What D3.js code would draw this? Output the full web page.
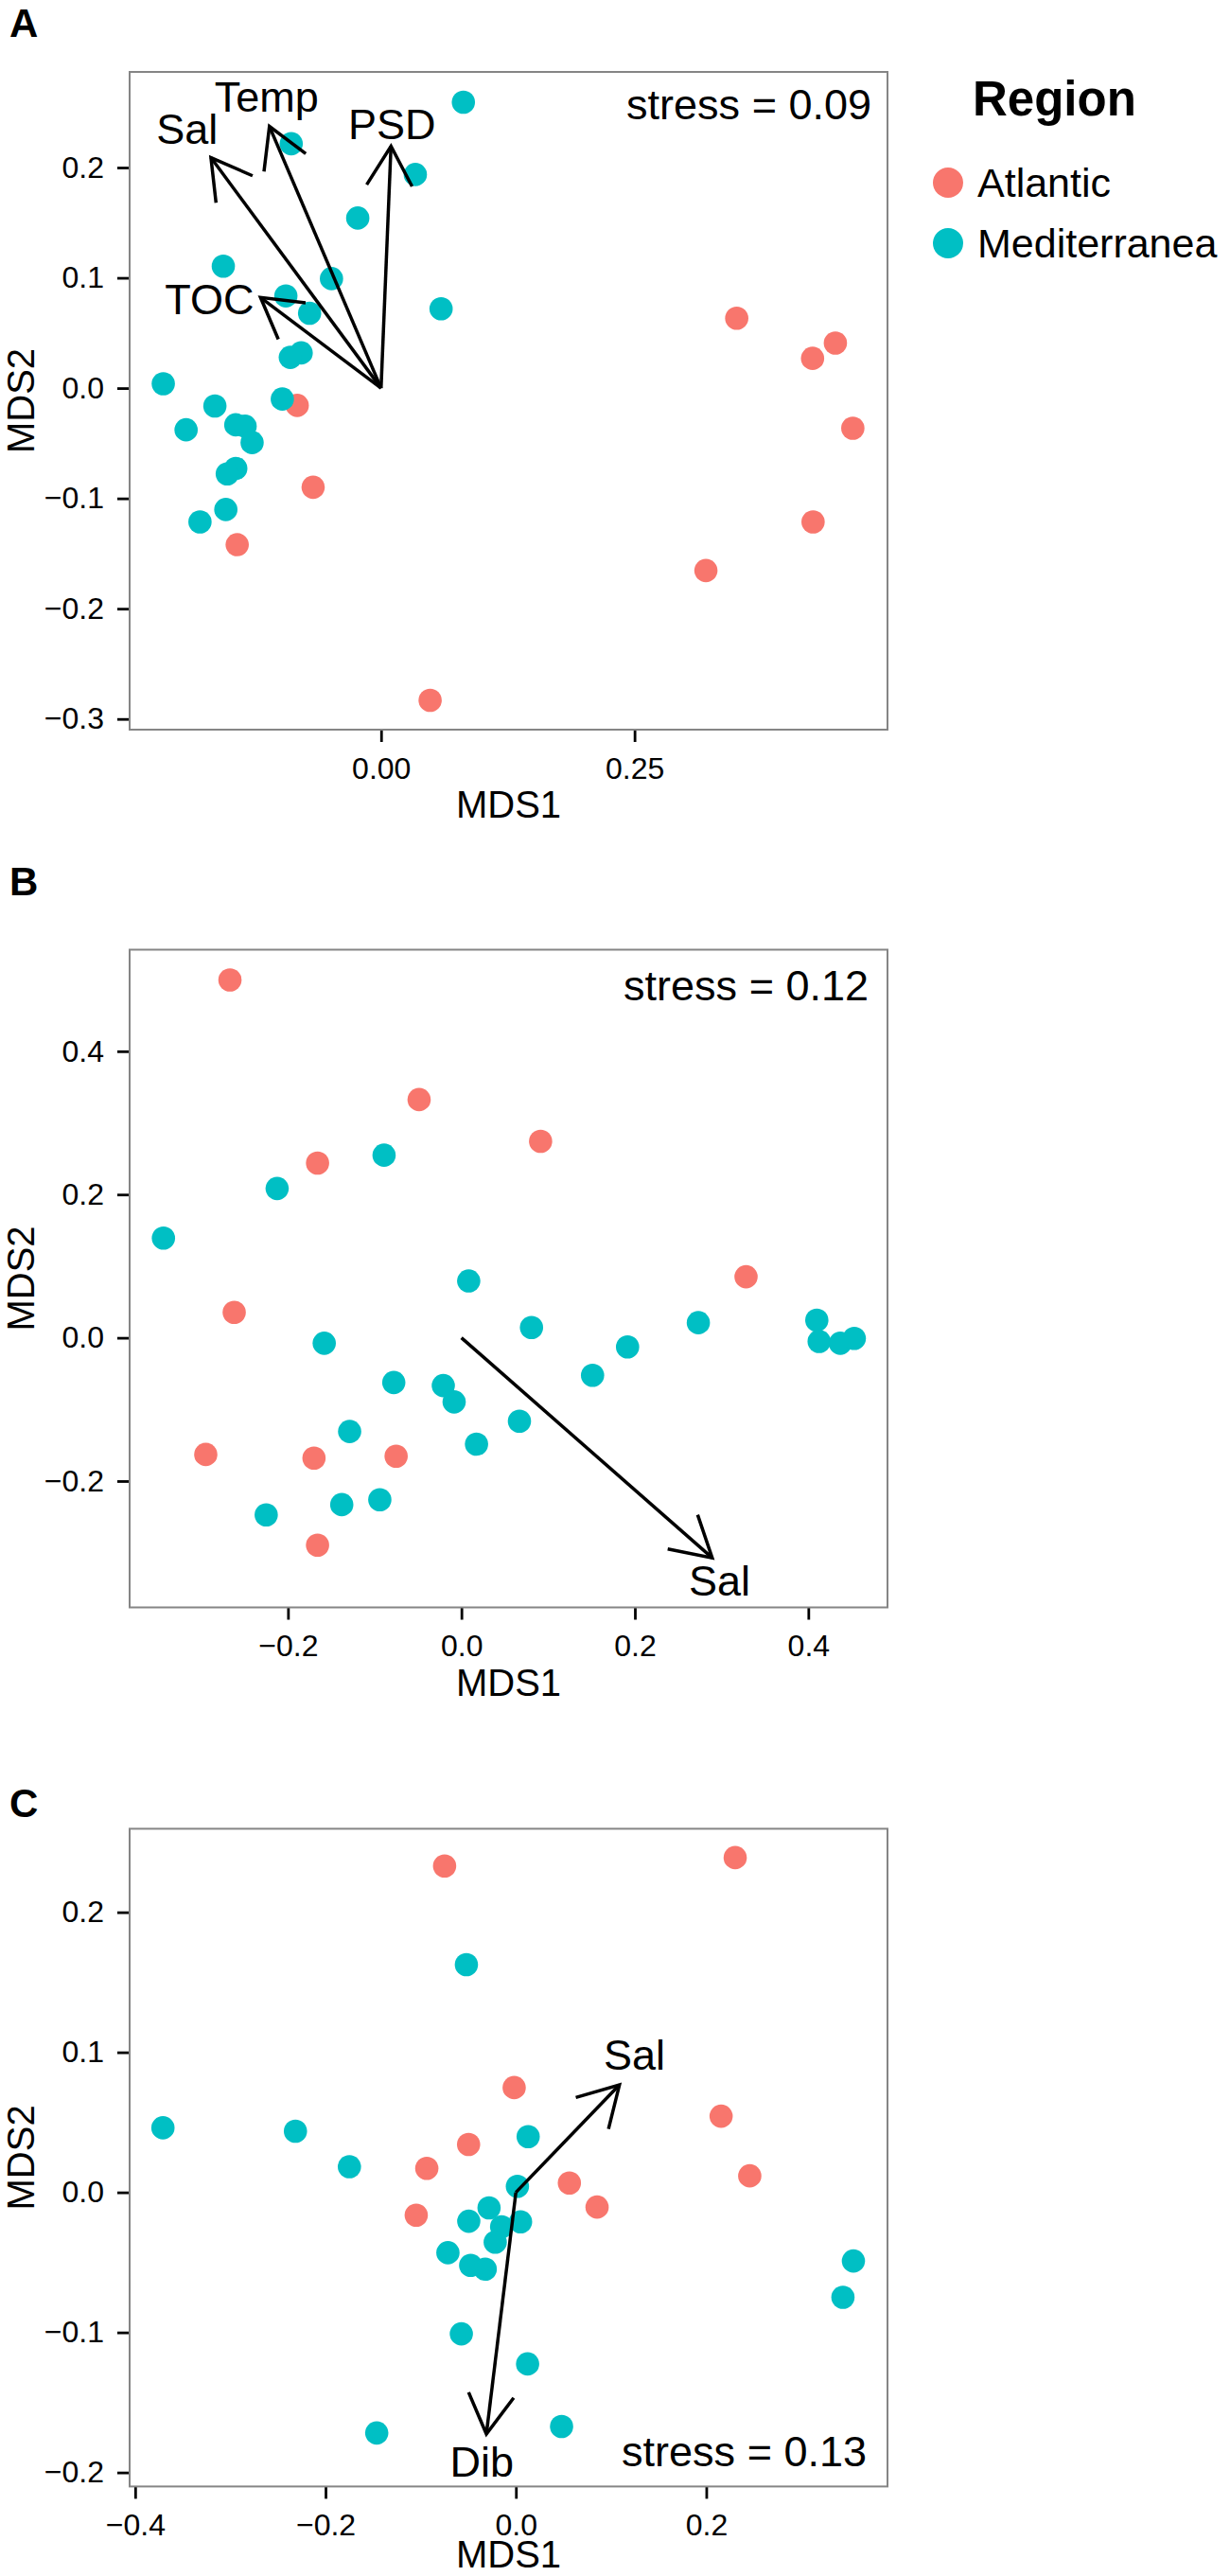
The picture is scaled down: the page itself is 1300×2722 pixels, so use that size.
<!DOCTYPE html>
<html>
<head>
<meta charset="utf-8">
<script src="https://cdn.jsdelivr.net/npm/d3@7"></script>
<style>
  body { margin: 0; background: #fff; }
</style>
</head>
<body>
<div id="chart"></div>
<script>
const WIDTH = 1300, HEIGHT = 2722;
const PLOT = { LEFT: 137, RIGHT: 938, HEIGHT: 695 };
const FONT = '"Liberation Sans", Arial, Helvetica, sans-serif';
const COLORS = { Atlantic: "#F8766D", Mediterranea: "#00BFC4" };
const regions = ["Atlantic", "Mediterranea"];

// ---- panel A ----
const atlanticA = [
  [0.3508, 0.0634], [0.4481, 0.0409], [0.4256, 0.0270], [0.4653, -0.0364],
  [-0.0827, -0.0157], [-0.0670, -0.0899], [-0.1419, -0.1420], [0.4261, -0.1213],
  [0.3204, -0.1654], [0.0484, -0.2831]
];
const mediterraneaA = [
  [0.0812, 0.2593], [-0.0886, 0.2216], [0.0338, 0.1937], [-0.0230, 0.1542],
  [-0.1556, 0.1106], [-0.0489, 0.0993], [-0.0939, 0.0836], [-0.0705, 0.0679],
  [0.0592, 0.0719], [-0.0788, 0.0319], [-0.0895, 0.0279], [-0.2148, 0.0040],
  [-0.0974, -0.0099], [-0.1639, -0.0162], [-0.1923, -0.0378], [-0.1433, -0.0333],
  [-0.1341, -0.0346], [-0.1272, -0.0494], [-0.1433, -0.0728], [-0.1517, -0.0778],
  [-0.1531, -0.1101], [-0.1786, -0.1213]
];
const vectorNamesA = ["Sal", "Temp", "PSD", "TOC"];
const vectorTipsA = [[-0.1678, 0.2090], [-0.1101, 0.2373], [0.0098, 0.2193], [-0.1189, 0.0822]];
const vectorLabelsA = [[-0.1913, 0.2351], [-0.1130, 0.2643], [0.0108, 0.2396], [-0.1693, 0.0809]];
const xDomainA = [-0.248, 0.4995], yDomainA = [-0.3097, 0.2867];
const xTicksA = [0, 0.25], xTickLabelsA = ["0.00", "0.25"];
const yTicksA = [-0.3, -0.2, -0.1, 0, 0.1, 0.2];
const yTickLabelsA = ["\u22120.3", "\u22120.2", "\u22120.1", "0.0", "0.1", "0.2"];

// ---- panel B ----
const atlanticB = [
  [-0.2669, 0.4996], [-0.0488, 0.3325], [0.0913, 0.2743], [-0.1659, 0.2439],
  [0.3282, 0.0852], [-0.2620, 0.0354], [-0.2948, -0.1629], [-0.1700, -0.1679],
  [-0.0753, -0.1654], [-0.1659, -0.2895]
];
const mediterraneaB = [
  [-0.0892, 0.2549], [-0.2125, 0.2084], [-0.3436, 0.1392], [0.0084, 0.0793],
  [0.0808, 0.0143], [0.2732, 0.0211], [-0.1582, -0.0076], [0.1916, -0.0127],
  [0.4098, 0.0245], [0.4125, -0.0051], [0.4369, -0.0076], [0.4530, -0.0008],
  [0.1512, -0.0523], [-0.0780, -0.0624], [-0.0209, -0.0667], [-0.0084, -0.0895],
  [0.0669, -0.1165], [0.0174, -0.1485], [-0.1289, -0.1308], [-0.1380, -0.2329],
  [-0.0941, -0.2262], [-0.2251, -0.2473]
];
const vectorNamesB = ["Sal"];
const vectorTipsB = [[0.2892, -0.3072]];
const vectorLabelsB = [[0.2976, -0.3384]];
const xDomainB = [-0.3826, 0.4913], yDomainB = [-0.3764, 0.5418];
const xTicksB = [-0.2, 0, 0.2, 0.4], xTickLabelsB = ["\u22120.2", "0.0", "0.2", "0.4"];
const yTicksB = [-0.2, 0, 0.2, 0.4], yTickLabelsB = ["\u22120.2", "0.0", "0.2", "0.4"];

// ---- panel C ----
const atlanticC = [
  [-0.0749, 0.2330], [0.2304, 0.2390], [-0.0018, 0.0748], [0.2156, 0.0544],
  [-0.0497, 0.0342], [-0.0936, 0.0171], [0.0562, 0.0067], [0.2457, 0.0118],
  [0.0853, -0.0105], [-0.1047, -0.0163]
];
const mediterraneaC = [
  [-0.0520, 0.1626], [-0.3708, 0.0461], [-0.2316, 0.0437], [-0.1749, 0.0183],
  [0.0129, 0.0398], [0.0016, 0.0043], [-0.0282, -0.0111], [-0.0495, -0.0206],
  [0.0049, -0.0210], [-0.0150, -0.0246], [-0.0217, -0.0356], [-0.0714, -0.0431],
  [-0.0475, -0.0521], [-0.0322, -0.0548], [0.3546, -0.0490], [0.3436, -0.0749],
  [-0.0573, -0.1010], [0.0123, -0.1225], [-0.1462, -0.1718], [0.0480, -0.1672]
];
const vectorNamesC = ["Sal", "Dib"];
const vectorTipsC = [[0.1088, 0.0767], [-0.0310, -0.1726]];
const vectorLabelsC = [[0.1246, 0.0986], [-0.0357, -0.1917]];
const xDomainC = [-0.4058, 0.3904], yDomainC = [-0.2100, 0.2596];
const xTicksC = [-0.4, -0.2, 0, 0.2], xTickLabelsC = ["\u22120.4", "\u22120.2", "0.0", "0.2"];
const yTicksC = [-0.2, -0.1, 0, 0.1, 0.2];
const yTickLabelsC = ["\u22120.2", "\u22120.1", "0.0", "0.1", "0.2"];

const stressLabels = ["stress = 0.09", "stress = 0.12", "stress = 0.13"];

// panel layout (top of plot box, letter baseline, stress text placement, x title offset)
const panels = [
  { letter: "A", top: 76, letterY: 38.5, atl: atlanticA, med: mediterraneaA,
    names: vectorNamesA, tips: vectorTipsA, labels: vectorLabelsA,
    xDomain: xDomainA, yDomain: yDomainA, xTicks: xTicksA, xTickLabels: xTickLabelsA,
    yTicks: yTicksA, yTickLabels: yTickLabelsA, stress: stressLabels[0],
    stressRight: 17, stressY: 50, xTitleY: 93 },
  { letter: "B", top: 1003.5, letterY: 946, atl: atlanticB, med: mediterraneaB,
    names: vectorNamesB, tips: vectorTipsB, labels: vectorLabelsB,
    xDomain: xDomainB, yDomain: yDomainB, xTicks: xTicksB, xTickLabels: xTickLabelsB,
    yTicks: yTicksB, yTickLabels: yTickLabelsB, stress: stressLabels[1],
    stressRight: 20, stressY: 53, xTitleY: 93 },
  { letter: "C", top: 1932.4, letterY: 1920, atl: atlanticC, med: mediterraneaC,
    names: vectorNamesC, tips: vectorTipsC, labels: vectorLabelsC,
    xDomain: xDomainC, yDomain: yDomainC, xTicks: xTicksC, xTickLabels: xTickLabelsC,
    yTicks: yTicksC, yTickLabels: yTickLabelsC, stress: stressLabels[2],
    stressRight: 22, stressY: PLOT.HEIGHT - 21, xTitleY: 86 }
];

const svg = d3.select("#chart")
  .append("svg")
  .attr("width", WIDTH)
  .attr("height", HEIGHT)
  .style("font-family", FONT);

svg.append("rect").attr("width", WIDTH).attr("height", HEIGHT).attr("fill", "#fff");

panels.forEach(drawPanel);
drawLegend();

function drawPanel(p) {
  const g = svg.append("g").attr("transform", `translate(0, ${p.top})`);

  const x = d3.scaleLinear().domain(p.xDomain).range([PLOT.LEFT, PLOT.RIGHT]);
  const y = d3.scaleLinear().domain(p.yDomain).range([PLOT.HEIGHT, 0]);

  // panel letter
  svg.append("text")
    .attr("x", 10)
    .attr("y", p.letterY)
    .attr("font-size", "42px")
    .attr("font-weight", "bold")
    .text(p.letter);

  // axes
  const xAxis = g.append("g")
    .attr("transform", `translate(0, ${PLOT.HEIGHT})`)
    .call(d3.axisBottom(x)
      .tickValues(p.xTicks)
      .tickFormat((d, i) => p.xTickLabels[i])
      .tickSize(13)
      .tickPadding(16));

  const yAxis = g.append("g")
    .attr("transform", `translate(${PLOT.LEFT}, 0)`)
    .call(d3.axisLeft(y)
      .tickValues(p.yTicks)
      .tickFormat((d, i) => p.yTickLabels[i])
      .tickSize(13)
      .tickPadding(14));

  [xAxis, yAxis].forEach(a => {
    a.select(".domain").remove();
    a.selectAll(".tick line").attr("stroke", "#000").attr("stroke-width", 2.8);
    a.selectAll(".tick text")
      .attr("fill", "#000")
      .attr("font-size", "32px")
      .attr("font-family", FONT);
  });

  // panel border
  g.append("rect")
    .attr("x", PLOT.LEFT)
    .attr("y", 0)
    .attr("width", PLOT.RIGHT - PLOT.LEFT)
    .attr("height", PLOT.HEIGHT)
    .attr("fill", "none")
    .attr("stroke", "#858585")
    .attr("stroke-width", 2);

  // axis titles
  g.append("text")
    .attr("x", (PLOT.LEFT + PLOT.RIGHT) / 2)
    .attr("y", PLOT.HEIGHT + p.xTitleY)
    .attr("text-anchor", "middle")
    .attr("font-size", "40px")
    .text("MDS1");

  g.append("text")
    .attr("transform", `translate(36, ${PLOT.HEIGHT / 2}) rotate(-90)`)
    .attr("text-anchor", "middle")
    .attr("font-size", "40px")
    .text("MDS2");

  // points
  const pts = []
    .concat(p.atl.map(d => ({ x: d[0], y: d[1], region: "Atlantic" })))
    .concat(p.med.map(d => ({ x: d[0], y: d[1], region: "Mediterranea" })));

  g.selectAll(".pt")
    .data(pts)
    .enter().append("circle")
    .attr("class", "pt")
    .attr("cx", d => x(d.x))
    .attr("cy", d => y(d.y))
    .attr("r", 12.3)
    .attr("fill", d => COLORS[d.region]);

  // environmental vectors
  const HEAD = 48, ANGLE = Math.PI / 6;
  p.tips.forEach((t, i) => {
    const x0 = x(0), y0 = y(0), x1 = x(t[0]), y1 = y(t[1]);
    const a = Math.atan2(y0 - y1, x0 - x1);
    const head = [a - ANGLE, a + ANGLE].map(b => [x1 + HEAD * Math.cos(b), y1 + HEAD * Math.sin(b)]);

    g.append("line")
      .attr("x1", x0).attr("y1", y0)
      .attr("x2", x1).attr("y2", y1)
      .attr("stroke", "#000")
      .attr("stroke-width", 3.5);

    g.append("path")
      .attr("d", d3.line()([head[0], [x1, y1], head[1]]))
      .attr("fill", "none")
      .attr("stroke", "#000")
      .attr("stroke-width", 3.5);

    g.append("text")
      .attr("x", x(p.labels[i][0]))
      .attr("y", y(p.labels[i][1]))
      .attr("dy", "0.36em")
      .attr("text-anchor", "middle")
      .attr("font-size", "45px")
      .text(p.names[i]);
  });

  // stress
  g.append("text")
    .attr("x", PLOT.RIGHT - p.stressRight)
    .attr("y", p.stressY)
    .attr("text-anchor", "end")
    .attr("font-size", "45px")
    .text(p.stress);
}

function drawLegend() {
  const lg = svg.append("g");

  lg.append("text")
    .attr("x", 1028)
    .attr("y", 122)
    .attr("font-size", "51px")
    .attr("font-weight", "bold")
    .text("Region");

  const keyY = d3.scalePoint().domain(regions).range([193, 257]);

  lg.selectAll(".key")
    .data(regions)
    .enter().append("circle")
    .attr("class", "key")
    .attr("cx", 1002)
    .attr("cy", d => keyY(d))
    .attr("r", 16)
    .attr("fill", d => COLORS[d]);

  lg.selectAll(".key-label")
    .data(regions)
    .enter().append("text")
    .attr("class", "key-label")
    .attr("x", 1033)
    .attr("y", d => keyY(d) + 15)
    .attr("font-size", "43px")
    .text(d => d);
}
</script>
</body>
</html>
